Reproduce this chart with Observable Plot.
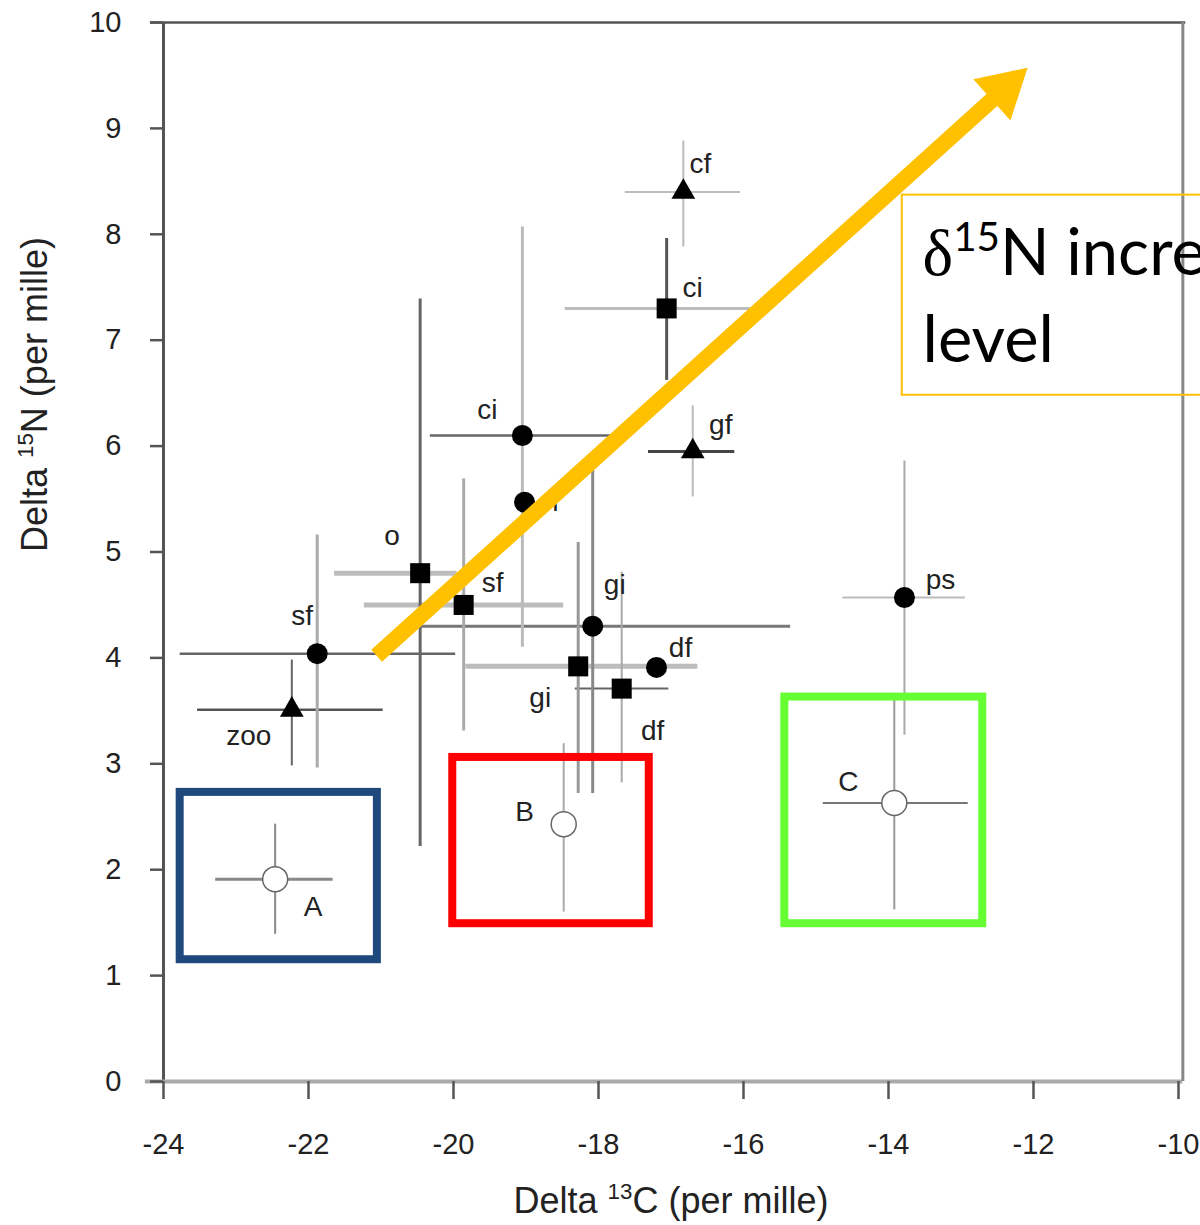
<!DOCTYPE html>
<html><head><meta charset="utf-8">
<script src="https://cdn.jsdelivr.net/npm/d3@7"></script>
<script src="https://cdn.jsdelivr.net/npm/@observablehq/plot@0.6"></script>
<style>html,body{margin:0;padding:0;background:#fff;overflow:hidden}</style>
</head><body><div id="chart"></div>
<script>
// ---- data ----
const labels  = ["zoo","sf","o","sf","ci","cf","ci","cf","gf","gi","gi","df","df","ps","A","B","C"];
const markers = ["triangle","circle","square","square","circle","circle","square","triangle","triangle","circle","square","circle","square","circle","open","open","open"];
const d13C     = [-22.23,-21.88,-20.46,-19.86,-19.05,-19.02,-17.06,-16.83,-16.70,-18.08,-18.28,-17.20,-17.68,-13.78,-22.46,-18.48,-13.92];
const d15N     = [3.51,4.04,4.80,4.50,6.10,5.47,7.30,8.40,5.95,4.30,3.92,3.91,3.71,4.57,1.91,2.43,2.63];
const d13CLow  = [-23.53,-23.77,-21.64,-21.23,-20.32,null,-18.46,-17.63,-17.31,-20.46,-19.83,null,-18.32,-14.63,-23.28,null,-14.90];
const d13CHigh = [-20.97,-19.97,-19.95,-18.48,-17.83,null,-15.90,-16.04,-16.12,-15.35,-16.63,null,-17.03,-12.94,-21.66,null,-12.90];
const d15NLow  = [2.98,2.96,2.22,3.31,4.10,null,6.62,7.88,5.52,2.72,2.72,null,2.82,3.27,1.39,1.60,1.62];
const d15NHigh = [3.98,5.16,7.39,5.69,8.07,null,7.96,8.88,6.38,5.85,5.09,null,4.81,5.86,2.43,3.19,3.60];

const boxNames = ["A","B","C"];
const boxC1 = [-23.77,-20.01,-15.43];
const boxC2 = [-21.05,-17.30,-12.70];
const boxN1 = [1.15,1.49,1.49];
const boxN2 = [2.73,3.06,3.63];

const arrowFrom = {c: -21.06, n: 4.02};
const arrowTo   = {c: -12.41, n: 9.37};
const noteText  = "δ^15N increases with trophic\nlevel";
const noteBox   = {c1: -13.81, c2: -5, n1: 6.48, n2: 8.37};
const noteAt    = {c: -13.53, n: 6.79};

const xTicks = [-24,-22,-20,-18,-16,-14,-12,-10];
const yTicks = [0,1,2,3,4,5,6,7,8,9,10];
const xTitle = "Delta ^13C (per mille)";
const yTitle = "Delta ^15N (per mille)";

// ---- styles ----
const hColor = ["#555","#666","#bdbdbd","#bdbdbd","#666",null,"#bdbdbd","#bdbdbd","#444","#777","#bdbdbd",null,"#666","#bbb","#888",null,"#777"];
const hWidth = [2.5,2.5,5,5,2.5,0,3,2,3,3,5,0,2,2,3,0,2];
const vColor = ["#666","#aaa","#666","#aaa","#bbb",null,"#555","#bbb","#bbb","#888","#999",null,"#aaa","#aaa","#888","#aaa","#999"];
const vWidth = [2,3,3,3,3,0,3,2,2,3,3,0,2,2,2,2,2];
const labelDx = [-43,-15,-28,29,-35,24,26,17,28,22,-38,24,31,36,38,-39,-46];
const labelDy = [26,-38,-37,-22,-25,0,-20,-28,-26,-41,32,-19,42,-18,28,-12,-21];
const boxColors = ["#1F497D","#FF0000","#66FF33"];

const idx = d3.range(labels.length);
const hIdx = idx.filter(i => d13CLow[i] != null);
const vIdx = idx.filter(i => d15NLow[i] != null);
const byKind = k => idx.filter(i => markers[i] === k);

const FONT = "'Liberation Sans', Arial, sans-serif";

const marks = [
  // frame / axis lines
  Plot.ruleX([-24], {y1: 0, y2: 10, stroke: "#555", strokeWidth: 3}),
  Plot.ruleY([0], {x1: -24.25, x2: -9.94, stroke: "#aaa", strokeWidth: 4}),
  Plot.ruleY([10], {x1: -24.18, x2: -9.9, stroke: "#555", strokeWidth: 2.5}),
  Plot.ruleX([-9.94], {y1: 0, y2: 10, stroke: "#888", strokeWidth: 3}),
  Plot.axisX({ticks: xTicks, tickSize: 18, tickPadding: 34, tickFormat: d => String(d), fontSize: 29, stroke: "#555", fill: "#222", strokeWidth: 2.5, label: null}),
  Plot.axisY({ticks: yTicks, tickSize: 13, tickPadding: 29, tickFormat: d => String(d), fontSize: 29, stroke: "#555", fill: "#222", strokeWidth: 2.5, label: null}),
  // error bars
  Plot.ruleY(hIdx, {y: i => d15N[i], x1: i => d13CLow[i], x2: i => d13CHigh[i], stroke: i => hColor[i], strokeWidth: i => hWidth[i]}),
  Plot.ruleX(vIdx, {x: i => d13C[i], y1: i => d15NLow[i], y2: i => d15NHigh[i], stroke: i => vColor[i], strokeWidth: i => vWidth[i]}),
  // markers
  Plot.dot(byKind("circle"), {x: i => d13C[i], y: i => d15N[i], r: 10.5, fill: "#000", symbol: "circle"}),
  Plot.dot(byKind("square"), {x: i => d13C[i], y: i => d15N[i], r: 11.3, fill: "#000", symbol: "square"}),
  Plot.dot(byKind("triangle"), {x: i => d13C[i], y: i => d15N[i], r: 8.8, fill: "#000", symbol: "triangle"}),
  Plot.dot(byKind("open"), {x: i => d13C[i], y: i => d15N[i], r: 12.5, fill: "#fff", stroke: "#666", strokeWidth: 1.5, symbol: "circle"}),
  // point labels
  ...idx.map(i => Plot.text([i], {x: i => d13C[i], y: i => d15N[i], text: i => labels[i], dx: labelDx[i], dy: labelDy[i], fontSize: 28, fill: "#222", fontFamily: FONT})),
  // boxes
  Plot.rect(d3.range(3), {x1: i => boxC1[i], x2: i => boxC2[i], y1: i => boxN1[i], y2: i => boxN2[i], fill: "none", stroke: i => boxColors[i], strokeWidth: 8}),
  // arrow
  Plot.link([0], {x1: arrowFrom.c, y1: arrowFrom.n, x2: arrowTo.c, y2: arrowTo.n, stroke: "#FFC000", strokeWidth: 16, strokeLinecap: "butt"}),
  Plot.dot([0], {x: arrowTo.c, y: arrowTo.n, symbol: "triangle", r: 20.6, rotate: 48, fill: "#FFC000", stroke: "none"}),
  // annotation
  Plot.rect([0], {x1: noteBox.c1, x2: noteBox.c2, y1: noteBox.n1, y2: noteBox.n2, fill: "none", stroke: "#FFC000", strokeWidth: 2}),
  Plot.text([0], {x: noteAt.c, y: noteAt.n, text: () => noteText, textAnchor: "start", lineAnchor: "bottom", lineHeight: 1.34, fontSize: 65, fill: "#000", fontFamily: "Lato, 'Open Sans', sans-serif"}),
  // axis titles
  Plot.text([0], {frameAnchor: "bottom", text: () => xTitle, dy: 131, fontSize: 36, fill: "#222", fontFamily: FONT}),
  Plot.text([0], {frameAnchor: "left", text: () => yTitle, rotate: -90, dx: -128, fontSize: 36, fill: "#222", fontFamily: FONT})
];

const chart = Plot.plot({
  width: 1200,
  height: 1225,
  marginLeft: 163,
  marginRight: 22,
  marginTop: 22,
  marginBottom: 144,
  x: {domain: [-24, -10]},
  y: {domain: [0, 10]},
  style: {fontFamily: FONT, fontSize: "29px", background: "#fff", overflow: "hidden"},
  marks
});
document.getElementById("chart").append(chart);

// rich text: superscripts (^digits) and serif delta
const NS = "http://www.w3.org/2000/svg";
function fontSizeOf(node) {
  return parseFloat(getComputedStyle(node).fontSize) || 30;
}
function richify(node) {
  const s = node.textContent;
  if (!/[\^δ]/.test(s)) return;
  const fs = fontSizeOf(node);
  node.textContent = "";
  const parts = s.split(/(\^\d+|δ)/).filter(Boolean);
  let shift = 0;
  for (const p of parts) {
    const t = document.createElementNS(NS, "tspan");
    if (p.startsWith("^")) {
      t.textContent = p.slice(1);
      t.setAttribute("font-size", fs * 0.62);
      shift = fs * 0.38;
      t.setAttribute("dy", -shift);
    } else {
      if (shift) { t.setAttribute("dy", shift); shift = 0; }
      if (p === "δ") t.setAttribute("font-family", "'Liberation Serif', 'DejaVu Serif', serif");
      t.textContent = p;
    }
    node.appendChild(t);
  }
}
chart.querySelectorAll("text").forEach(function(el) {
  const tsp = Array.from(el.querySelectorAll("tspan"));
  if (tsp.length) tsp.forEach(richify); else richify(el);
});
</script>
</body></html>
